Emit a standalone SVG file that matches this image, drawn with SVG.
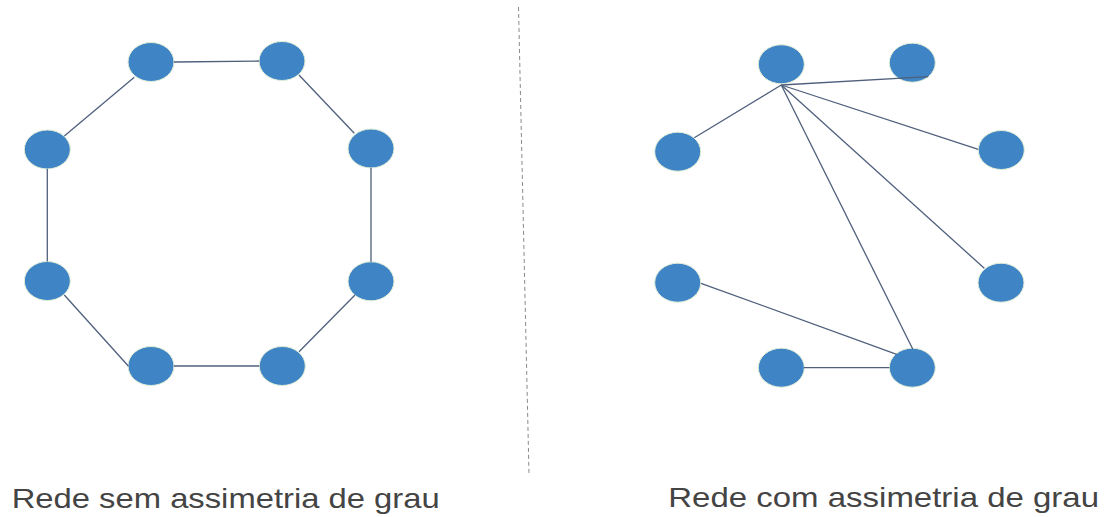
<svg xmlns="http://www.w3.org/2000/svg" width="1105" height="517" viewBox="0 0 1105 517">
<style>
.node{fill:#3f85c6;stroke:#e2eed6;stroke-width:1}
.edge{stroke:#4f5f7c;stroke-width:1.3;fill:none}
.label{font-family:"Liberation Sans",Arial,sans-serif;font-size:28px;fill:#444}
.divider{stroke:#8a8a8a;stroke-width:1;stroke-dasharray:4 3}
</style>
<rect width="1105" height="517" fill="#fff"/>
<line class="divider" x1="518.5" y1="7" x2="529" y2="474"/>
<g id="left-network">
<g id="L1"><ellipse class="node" cx="151" cy="62" rx="23" ry="19.5"/></g>
<g id="L2"><ellipse class="node" cx="282" cy="61" rx="23" ry="19.5"/></g>
<g id="L3"><ellipse class="node" cx="371" cy="148.5" rx="23" ry="19.5"/></g>
<g id="L4"><ellipse class="node" cx="371" cy="281.3" rx="23" ry="19.5"/></g>
<g id="L5"><ellipse class="node" cx="282.3" cy="366" rx="23" ry="19.5"/></g>
<g id="L6"><ellipse class="node" cx="151" cy="366" rx="23" ry="19.5"/></g>
<g id="L7"><ellipse class="node" cx="47.3" cy="281" rx="23" ry="19.5"/></g>
<g id="L8"><ellipse class="node" cx="47.3" cy="149.5" rx="23" ry="19.5"/></g>
</g>
<g id="right-network">
<g id="R1"><ellipse class="node" cx="781.3" cy="64.3" rx="23" ry="19.5"/></g>
<g id="R2"><ellipse class="node" cx="912.3" cy="62.7" rx="23" ry="19.5"/></g>
<g id="R3"><ellipse class="node" cx="1001.3" cy="150" rx="23" ry="19.5"/></g>
<g id="R4"><ellipse class="node" cx="1001" cy="282.7" rx="23" ry="19.5"/></g>
<g id="R5"><ellipse class="node" cx="912.3" cy="367.7" rx="23" ry="19.5"/></g>
<g id="R6"><ellipse class="node" cx="781.3" cy="367.7" rx="23" ry="19.5"/></g>
<g id="R7"><ellipse class="node" cx="677.7" cy="282.7" rx="23" ry="19.5"/></g>
<g id="R8"><ellipse class="node" cx="677.7" cy="151.7" rx="23" ry="19.5"/></g>
</g>
<g id="connectors">
<line class="edge" x1="174" y1="62" x2="259" y2="61"/>
<line class="edge" x1="299" y1="75" x2="354.3" y2="133.3"/>
<line class="edge" x1="371" y1="168" x2="371" y2="261.8"/>
<line class="edge" x1="355" y1="295" x2="299" y2="351.7"/>
<line class="edge" x1="259.3" y1="366" x2="174" y2="366"/>
<line class="edge" x1="128.3" y1="366" x2="64.3" y2="295"/>
<line class="edge" x1="47.3" y1="261.5" x2="47.3" y2="169"/>
<line class="edge" x1="64.3" y1="136" x2="134.3" y2="77.3"/>
<line class="edge" x1="781.3" y1="85" x2="928.3" y2="76.7"/>
<line class="edge" x1="781.3" y1="85" x2="694.3" y2="137.7"/>
<line class="edge" x1="781.3" y1="85" x2="978.3" y2="149.3"/>
<line class="edge" x1="781.3" y1="85" x2="984.3" y2="268.3"/>
<line class="edge" x1="781.3" y1="85" x2="912.7" y2="349"/>
<line class="edge" x1="701" y1="283.3" x2="896.7" y2="354.3"/>
<line class="edge" x1="804" y1="367.7" x2="889.3" y2="367.7"/>
</g>
<text class="label" x="11.7" y="508.3" textLength="428" lengthAdjust="spacingAndGlyphs">Rede sem assimetria de grau</text>
<text class="label" x="668.3" y="506.7" textLength="430.7" lengthAdjust="spacingAndGlyphs">Rede com assimetria de grau</text>
</svg>
